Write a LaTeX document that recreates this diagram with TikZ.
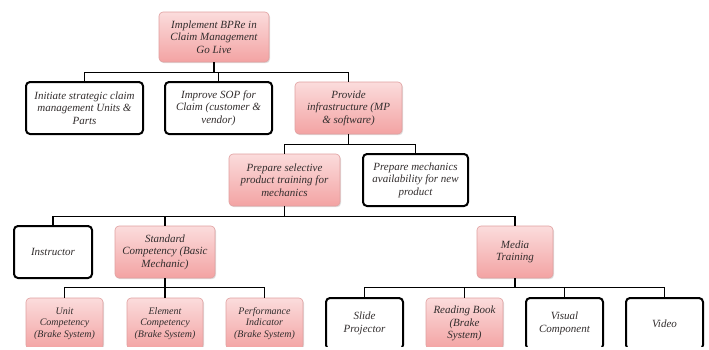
\documentclass[tikz,border=0pt]{standalone}
\usepackage{fontspec}
\setmainfont{Liberation Serif}
\usepackage{xcolor}
\usepackage{tikz}
\usetikzlibrary{shapes,positioning,calc,shadows}

\definecolor{pinktop}{RGB}{251,220,220}
\definecolor{pinkbot}{RGB}{243,163,163}
\definecolor{pinkedge}{RGB}{224,160,160}
\definecolor{inkgray}{RGB}{50,45,45}

\tikzset{
  box/.style={rectangle, rounded corners=4pt, align=center, inner sep=0pt,
    text=inkgray, font=\itshape\fontsize{11}{12.5}\selectfont},
  pinkbox/.style={box, draw=pinkedge, line width=0.6pt, top color=pinktop, bottom color=pinkbot,
    drop shadow={opacity=0.25, shadow xshift=1pt, shadow yshift=-1.2pt}},
  whitebox/.style={box, draw=black, line width=2pt, fill=white,
    drop shadow={opacity=0.15, shadow xshift=0.8pt, shadow yshift=-0.8pt}},
  small/.style={font=\itshape\fontsize{10}{11.5}\selectfont},
  conn/.style={draw=black, line width=1.4pt}
}

\begin{document}
\begin{tikzpicture}[x=1pt, y=-1pt]
    \path[use as bounding box] (0,0) rectangle (709,349);
    \clip (0,-5) rectangle (709,346.5);

    % Top level
    \node[pinkbox, minimum width=110, minimum height=50] (root) at (214,37)
        {Implement BPRe in\\Claim Management\\Go Live};

    % Second level
    \node[whitebox, minimum width=117, minimum height=52] (initiate) at (84.5,108)
        {Initiate strategic claim\\management Units \&\\Parts};
    \node[whitebox, minimum width=107, minimum height=52] (improve) at (218.5,108)
        {Improve SOP for\\Claim (customer \&\\vendor)};
    \node[pinkbox, minimum width=107, minimum height=52] (provide) at (348.5,108)
        {Provide\\infrastructure (MP\\\& software)};

    % Third level
    \node[pinkbox, minimum width=111, minimum height=52] (prepsel) at (284.5,180)
        {Prepare selective\\product training for\\mechanics};
    \node[whitebox, minimum width=105, minimum height=52] (prepmech) at (415.5,180)
        {Prepare mechanics\\availability for new\\product};

    % Fourth level
    \node[whitebox, minimum width=78, minimum height=52] (instructor) at (53,252)
        {Instructor};
    \node[pinkbox, minimum width=100, minimum height=52] (standard) at (165,252)
        {Standard\\Competency (Basic\\Mechanic)};
    \node[pinkbox, minimum width=76, minimum height=52] (media) at (515,252)
        {Media\\Training};

    % Bottom level
    \node[pinkbox, small, minimum width=77, minimum height=51] (unit) at (64.5,323.5)
        {Unit\\Competency\\(Brake System)};
    \node[pinkbox, small, minimum width=76, minimum height=51] (element) at (165,323.5)
        {Element\\Competency\\(Brake System)};
    \node[pinkbox, small, minimum width=77, minimum height=51] (perf) at (264.5,323.5)
        {Performance\\Indicator\\(Brake System)};
    \node[whitebox, minimum width=77, minimum height=51] (slide) at (364.5,323.5)
        {Slide\\Projector};
    \node[pinkbox, minimum width=77, minimum height=51] (reading) at (464.5,323.5)
        {Reading Book\\(Brake\\System)};
    \node[whitebox, minimum width=77, minimum height=51] (visual) at (564.5,323.5)
        {Visual\\Component};
    \node[whitebox, minimum width=77, minimum height=51] (video) at (664.5,323.5)
        {Video};

    % Connectors
    \coordinate (j1) at ($(root.south)+(0,10)$);
    \draw[conn] (root.south) -- (j1) -| (initiate.north);
    \draw[conn] (j1) -| (improve.north);
    \draw[conn] (j1) -| (provide.north);

    \coordinate (j2) at ($(provide.south)+(0,10)$);
    \draw[conn] (provide.south) -- (j2) -| (prepsel.north);
    \draw[conn] (j2) -| (prepmech.north);

    \coordinate (j3) at ($(prepsel.south)+(0,10)$);
    \draw[conn] (prepsel.south) -- (j3) -| (instructor.north);
    \draw[conn] (j3) -| (standard.north);
    \draw[conn] (j3) -| (media.north);

    \coordinate (j4) at ($(standard.south)+(0,9)$);
    \draw[conn] (standard.south) -- (j4) -| (unit.north);
    \draw[conn] (j4) -- (element.north);
    \draw[conn] (j4) -| (perf.north);

    \coordinate (j5) at ($(media.south)+(0,9)$);
    \draw[conn] (media.south) -- (j5) -| (slide.north);
    \draw[conn] (j5) -| (reading.north);
    \draw[conn] (j5) -| (visual.north);
    \draw[conn] (j5) -| (video.north);
\end{tikzpicture}
\end{document}
